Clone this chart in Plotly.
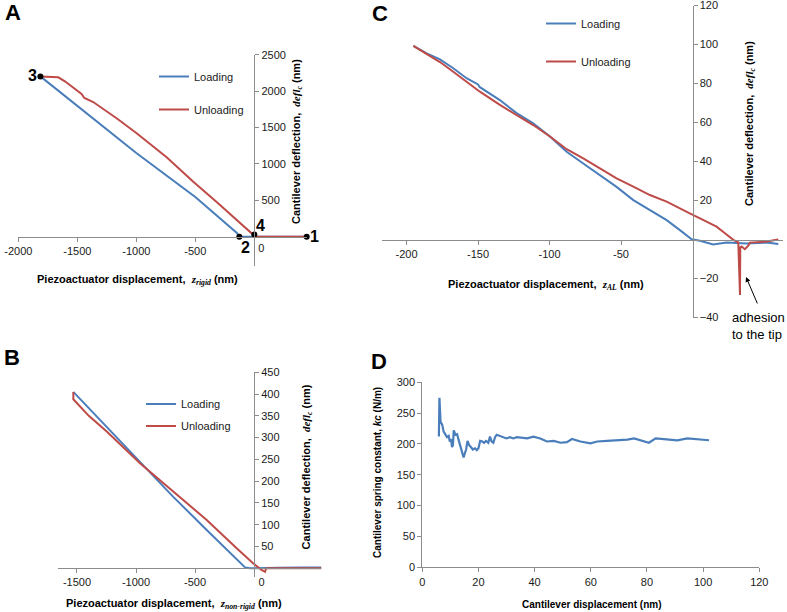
import plotly.graph_objects as go

W, H = 787, 612
FONT = "Liberation Sans, Arial, sans-serif"
SERIF = "Liberation Serif"
BLUE = "#4A7EBB"
RED = "#BE4B48"
AXC = "#8C8C8C"
TXT = "#1a1a1a"

# ---------------- Panel A data ----------------
a_load_x = [-1813, -1500, -1000, -500, -300, -200, -150, -127, -100, 0, 444]
a_load_y = [2202, 1795, 1150, 545, 270, 135, 55, 8, 0, 0, 0]
a_unload_x = [-1813, -1700, -1661, -1605, -1530, -1464, -1440, -1410, -1365,
              -1167, -997, -743, -517, -319, -178, -23, 0, 20, 444]
a_unload_y = [2202, 2200, 2190, 2135, 2040, 1960, 1905, 1880, 1850,
              1627, 1421, 1091, 756, 477, 275, 46, 30, 0, 0]
a_pts_x = [444, -127, -1813, 0]
a_pts_y = [0, 0, 2202, 30]
a_pts_lbl = ["1", "2", "3", "4"]

# ---------------- Panel B data ----------------
b_load_x = [-1531, -1248, -966, -684, -401, -175, -100, -76, -34, 0, 200, 400, 573]
b_load_y = [405, 325, 245, 164, 88, 27, 8, 2, 0, 0, 1, 2, 2]
b_unload_x = [-1531, -1531, -1400, -1248, -966, -684, -401, -147, -6, 60, 93, 100, 107, 300, 573]
b_unload_y = [405, 388, 350, 314, 241, 176, 111, 46, 11, -3, -8, -2, 0, 0, 0]

# ---------------- Panel C data ----------------
c_load_x = [-195.2, -185.9, -176.6, -167.3, -158, -150, -148.7, -134.7, -123, -111.4,
            -99.7, -88, -76.4, -64.7, -53.1, -41.4, -29.8, -18.1, -8.8, -0.6,
            5.2, 14.5, 23.9, 37.9, 51.8, 60]
c_load_y = [99.3, 95.4, 92.4, 87.8, 82.7, 79.5, 78.1, 71.5, 64.8, 59.6,
            52.8, 45, 39, 33, 27, 20.2, 15, 9.9, 4.8, 0.1,
            -0.6, -2.5, -1.6, -2, -1.6, -2.3]
c_unload_x = [-195.2, -185.9, -176.6, -167.3, -158, -148.7, -134.7, -123, -111.4, -99.7,
              -88, -76.4, -64.7, -53.1, -41.4, -29.8, -18.1, -6.5, -1.9, 5.2,
              16.8, 22.7, 28.5, 32, 33.2, 33.4, 34.3, 36.6, 39, 40.1, 51.8, 60]
c_unload_y = [99.3, 95, 91, 86, 81, 75.8, 69, 63.8, 58.7, 52.8,
              46.3, 41.6, 36.5, 31.3, 27.1, 22.8, 19.4, 15.4, 13.4, 10.8,
              6.6, 3.2, -0.2, -1.5, -28.5, -4, -3.6, -5, -3.2, -1.6, -1, 0]

# ---------------- Panel D data ----------------
d_x = [5.9, 6.1, 6.5, 7.1, 7.6, 8.2, 8.8, 9.4, 9.8, 10.2, 10.6, 10.9, 11.2, 11.8, 12.4,
       12.9, 13.5, 14.1, 14.7, 15.3, 15.6, 16.1, 16.7, 17.3, 18.0, 18.8, 19.4, 20.0,
       20.6, 21.4, 22.0, 22.7, 23.5, 24.1, 24.7, 25.3, 25.9, 26.5, 27.6, 28.8, 30.0,
       31.2, 32.4, 33.7, 35.5, 37.3, 39.6, 42.0, 44.4, 46.8, 49.2, 51.5, 53.3, 56.3,
       59.9, 62.3, 65.8, 69.4, 73.0, 75.4, 78.9, 80.7, 83.1, 87.3, 90.8, 94.4, 98.0, 102.1]
d_y = [212, 275, 236, 231, 220, 216, 211, 213, 204, 208, 195, 198, 222, 215, 216,
       207, 196, 187, 178, 187, 191, 205, 198, 195, 191, 193, 190, 193,
       205, 204, 202, 205, 202, 212, 204, 202, 211, 215, 213, 211, 209,
       211, 209, 211, 210, 209, 212, 209, 204, 205, 202, 203, 208, 204,
       201, 204, 205, 206, 207, 209, 205, 202, 209, 208, 206, 209, 208, 206]


def px_x(p):
    return p / W


def px_y(p):
    return 1 - p / H


fig = go.Figure()

fig.add_trace(go.Scatter(x=a_load_x, y=a_load_y, mode="lines", name="Loading",
                         line=dict(color=BLUE, width=2), xaxis="x", yaxis="y",
                         legend="legend", legendgroup="a1"))
fig.add_trace(go.Scatter(x=a_unload_x, y=a_unload_y, mode="lines", name="Unloading",
                         line=dict(color=RED, width=2), xaxis="x", yaxis="y",
                         legend="legend", legendgroup="a2"))
fig.add_trace(go.Scatter(x=a_pts_x, y=a_pts_y, mode="markers",
                         marker=dict(color="black", size=6), showlegend=False,
                         cliponaxis=False, xaxis="x", yaxis="y"))
# carrier for the shifted "0" label axis of panel A
fig.add_trace(go.Scatter(x=[None], y=[None], mode="lines", showlegend=False,
                         hoverinfo="skip", xaxis="x5", yaxis="y"))

fig.add_trace(go.Scatter(x=b_load_x, y=b_load_y, mode="lines", name="Loading",
                         line=dict(color=BLUE, width=2), xaxis="x2", yaxis="y2",
                         legend="legend2", legendgroup="b1"))
fig.add_trace(go.Scatter(x=b_unload_x, y=b_unload_y, mode="lines", name="Unloading",
                         line=dict(color=RED, width=2), xaxis="x2", yaxis="y2",
                         legend="legend2", legendgroup="b2"))

fig.add_trace(go.Scatter(x=c_load_x, y=c_load_y, mode="lines", name="Loading",
                         line=dict(color=BLUE, width=2), xaxis="x3", yaxis="y3",
                         legend="legend3", legendgroup="c1"))
fig.add_trace(go.Scatter(x=c_unload_x, y=c_unload_y, mode="lines", name="Unloading",
                         line=dict(color=RED, width=2), xaxis="x3", yaxis="y3",
                         legend="legend3", legendgroup="c2"))

fig.add_trace(go.Scatter(x=d_x, y=d_y, mode="lines", line=dict(color=BLUE, width=2.2),
                         xaxis="x4", yaxis="y4", showlegend=False))

tickfont = dict(family=FONT, size=11, color=TXT)
common = dict(showgrid=False, zeroline=False, showline=True, linecolor=AXC, linewidth=1,
              ticks="outside", ticklen=4, tickcolor=AXC, tickfont=tickfont,
              fixedrange=True, automargin=False, ticklabeloverflow="allow")


def free_axes(xr, yr, box, xtv, xtt, ytv):
    # box = (left_px, right_px, top_px, bottom_px) of the plot area
    l, r, t, b = box
    xdom = [px_x(l), px_x(r)]
    ydom = [px_y(b), px_y(t)]
    ypos = ydom[0] + (0 - yr[0]) / (yr[1] - yr[0]) * (ydom[1] - ydom[0])
    xpos = xdom[0] + (0 - xr[0]) / (xr[1] - xr[0]) * (xdom[1] - xdom[0])
    xa = dict(common, range=xr, domain=xdom, anchor="free", position=ypos,
              tickvals=xtv, ticktext=xtt, side="bottom")
    ya = dict(common, range=yr, domain=ydom, anchor="free", position=xpos,
              tickvals=ytv, side="right")
    return xa, ya


ZERO = "\u00a0\u00a0\u00a0\u00a0\u00a00"
xa1, ya1 = free_axes([-2000, 450], [-400, 2500], (18.3, 307.4, 54.7, 265.8),
                     [-2000, -1500, -1000, -500, 0],
                     ["-2000", "-1500", "-1000", "-500", ""],
                     [500, 1000, 1500, 2000, 2500])
xa5 = dict(xa1, overlaying="x", showline=False, ticklen=1, tickcolor="rgba(0,0,0,0)",
           tickvals=[0], ticktext=["0"], ticklabelshift=7)
xa2, ya2 = free_axes([-1660, 570], [-20, 450], (58.1, 321.3, 372.3, 577.0),
                     [-1500, -1000, -500, 0],
                     ["-1500", "-1000", "-500", ZERO],
                     [50, 100, 150, 200, 250, 300, 350, 400, 450])
xa3, ya3 = free_axes([-217, 63], [-40, 120], (382.2, 782.6, 5.5, 317.5),
                     [-200, -150, -100, -50], ["-200", "-150", "-100", "-50"],
                     [-40, -20, 20, 40, 60, 80, 100, 120])

xa4 = dict(common, range=[0, 120], domain=[px_x(422.3), px_x(759.3)], anchor="y4",
           tickvals=[0, 20, 40, 60, 80, 100, 120])
ya4 = dict(common, range=[0, 300], domain=[px_y(567.3), px_y(382.3)], anchor="x4",
           tickvals=[0, 50, 100, 150, 200, 250, 300])

legfont = dict(family=FONT, size=11, color=TXT)


def leg(xp, yp, gap):
    return dict(x=px_x(xp), y=px_y(yp), xanchor="left", yanchor="top",
                bgcolor="rgba(0,0,0,0)", font=legfont, itemwidth=30,
                traceorder="grouped", tracegroupgap=gap)


fig.update_layout(
    template="none",
    width=W, height=H, autosize=False,
    margin=dict(l=0, r=0, t=0, b=0, pad=0, autoexpand=False),
    paper_bgcolor="white", plot_bgcolor="white",
    xaxis=xa1, yaxis=ya1, xaxis2=xa2, yaxis2=ya2, xaxis3=xa3, yaxis3=ya3,
    xaxis4=xa4, yaxis4=ya4, xaxis5=xa5,
    legend=leg(154, 62, 14),
    legend2=leg(141, 389.5, 3),
    legend3=leg(541, 9, 19),
    font=dict(family=FONT, color=TXT),
)

ann = []


def text_ann(txt, cx, cy, size, angle=0):
    ann.append(dict(text=txt, x=px_x(cx), y=px_y(cy), xref="paper", yref="paper",
                    showarrow=False, xanchor="center", yanchor="middle", textangle=angle,
                    font=dict(family=FONT, size=size, color="black")))


def serif(s):
    return "<span style='font-family:%s'><b><i>%s</i></b></span>" % (SERIF, s)


# numbered points of panel A (labels attached to the data points)
pt_shift = [(8, 0), (6, -11), (-8, 1), (6, 9)]
for px_, py_, lbl, (sx, sy) in zip(a_pts_x, a_pts_y, a_pts_lbl, pt_shift):
    ann.append(dict(text="<b>%s</b>" % lbl, x=px_, y=py_, xref="x", yref="y",
                    showarrow=False, xanchor="center", yanchor="middle",
                    xshift=sx, yshift=sy, font=dict(family=FONT, size=16, color="black")))

# panel letters
text_ann("<b>A</b>", 12.5, 12.5, 22)
text_ann("<b>B</b>", 11.5, 357, 22)
text_ann("<b>C</b>", 380, 13, 22)
text_ann("<b>D</b>", 378.5, 361, 22)

# axis titles
text_ann("<b>Piezoactuator displacement,\u00a0 </b>" + serif("z<sub>rigid</sub>") + "<b> (nm)</b>",
         137.5, 280, 11)
text_ann("<b>Piezoactuator displacement,\u00a0 </b>" + serif("z<sub>non-rigid</sub>") + "<b> (nm)</b>",
         174, 604, 11)
text_ann("<b>Piezoactuator displacement,\u00a0 </b>" + serif("z<sub>AL</sub>") + "<b> (nm)</b>",
         546, 285, 11)
ytitle = "<b>Cantilever deflection,\u00a0 </b>" + serif("defl<sub>c</sub>") + "<b> (nm)</b>"
text_ann(ytitle, 297, 142, 11, angle=-90)
text_ann(ytitle, 306.7, 466.7, 11, angle=-90)
text_ann(ytitle, 750, 124, 11, angle=-90)
text_ann("<b>Cantilever displacement (nm)</b>", 591, 604, 10)
text_ann("<b>Cantilever spring constant, <i>kc</i> (N/m)</b>", 377, 473, 10, angle=-90)

# adhesion note
ann.append(dict(text="adhesion<br>to the tip", x=px_x(758), y=px_y(325.5), xref="paper",
                yref="paper", showarrow=False, xanchor="center", yanchor="middle",
                align="left", font=dict(family=FONT, size=13, color="black")))
ann.append(dict(text="", x=37.4, y=-19.2, xref="x3", yref="y3", showarrow=True,
                ax=12, ay=28, arrowhead=2, arrowsize=1, arrowwidth=1, arrowcolor="black"))

fig.update_layout(annotations=ann)
fig.write_html("out.html", config={"displayModeBar": False},
               post_script="document.body.style.margin='0';document.body.style.overflow='hidden';")
